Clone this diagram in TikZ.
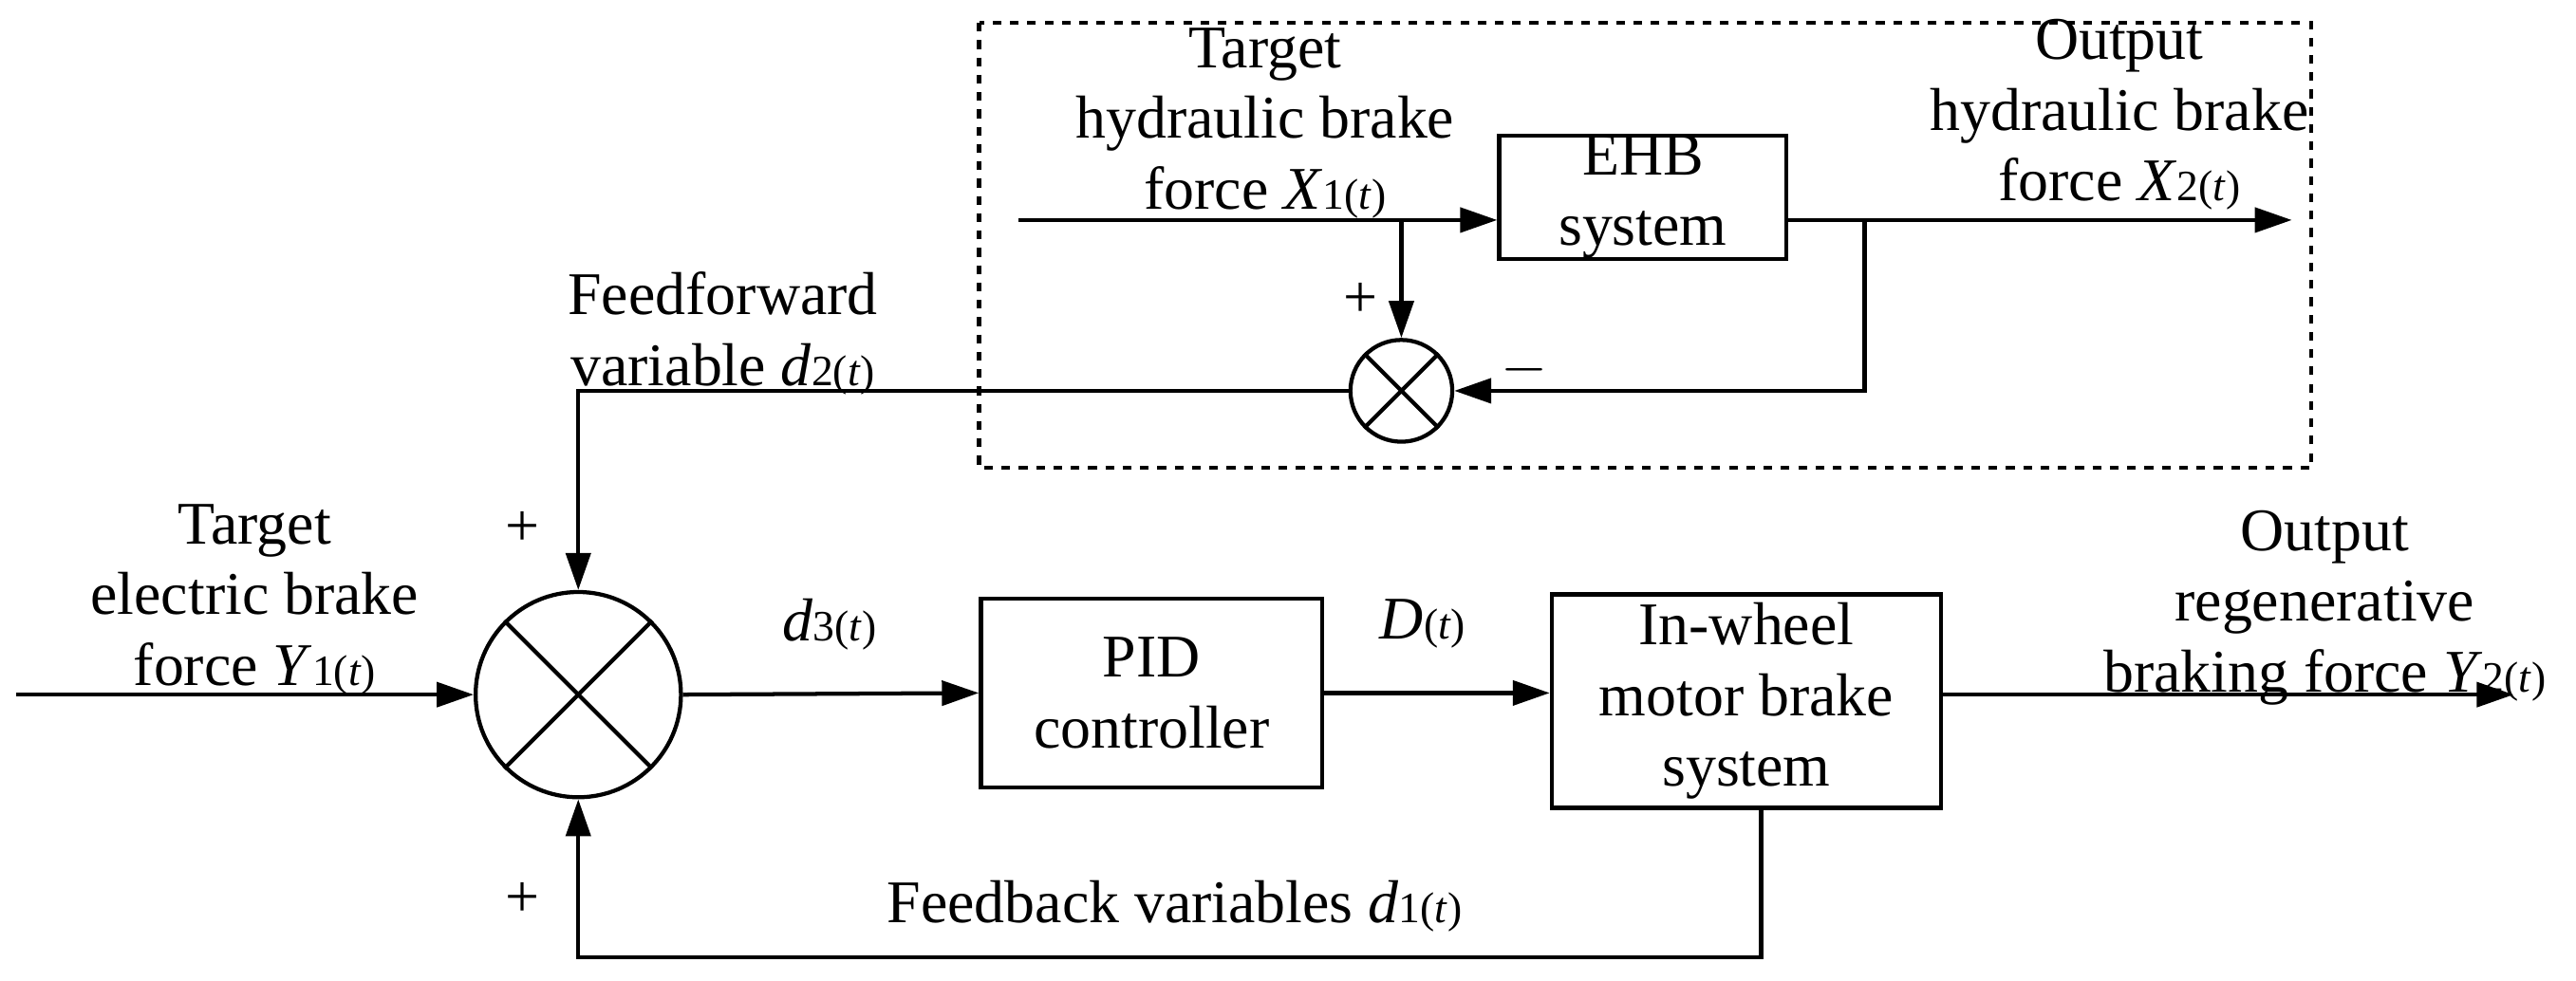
\documentclass[tikz,border=0pt]{standalone}
\usepackage{fontspec}
\setmainfont{Liberation Serif}
\usetikzlibrary{arrows.meta}
\newcommand{\sv}[2]{\textit{#1}{\fontsize{15}{15}\selectfont #2(\textit{t})}}
\begin{document}
\begin{tikzpicture}[x=0.02cm,y=-0.02cm,
  line width=1.4pt,
  arr/.style={-{Triangle[length=0.45cm,width=0.3cm]}},
  box/.style={draw,line width=1.4pt,align=center,inner sep=0pt},
  lab/.style={align=center,font=\fontsize{21}{24.5}\selectfont},
  every node/.style={font=\fontsize{21}{24.5}\selectfont}]
\useasboundingbox (0,0) rectangle (1568,597);
\draw[dashed,line width=1.4pt] (596,14) rectangle (1407,285);
\node[box,minimum width=3.5cm,minimum height=1.48cm] (ehb) at (1000,120) {EHB\\system};
\node[draw,circle,minimum size=1.24cm,inner sep=0pt] (s1) at (853,238) {};
\draw (s1.45)--(s1.225) (s1.135)--(s1.315);
\node[box,minimum width=4.16cm,minimum height=2.3cm] (pid) at (701,422) {PID\\controller};
\node[box,minimum width=4.74cm,minimum height=2.6cm] (mot) at (1063,427) {In-wheel\\motor brake\\system};
\node[draw,circle,minimum size=2.5cm,inner sep=0pt] (s2) at (352,423) {};
\draw (s2.45)--(s2.225) (s2.135)--(s2.315);
\coordinate (in1) at (620,134);
\coordinate (br1) at (853,134);
\coordinate (out1) at (1395,134);
\coordinate (br2) at (1135,134);
\coordinate (in2) at (10,423);
\coordinate (out2) at (1530,423);
\coordinate (fb) at (1072,583);
\draw[arr] (in1)--(ehb.west|-in1);
\draw[arr] (br1)--(s1.north);
\draw[arr] (ehb.east|-out1)--(out1);
\draw[arr] (br2)--(br2|-s1)--(s1.east);
\draw[arr] (s1.west)--(352,238)--(s2.north);
\draw[arr] (in2)--(s2.west);
\draw[arr] (s2.east)--(pid.west);
\draw[arr] (pid.east)--(mot.west|-pid);
\draw[arr] (mot.east|-out2)--(out2);
\draw[arr] (fb|-mot.south)--(fb)--(352,583)--(s2.south);
\node[lab] (l1) at (770,75) {Target\\hydraulic brake\\force \sv{X}{1}};
\node[lab] (l2) at (1290,70) {Output\\hydraulic brake\\force \sv{X}{2}};
\node (p1) at (828,183) {+};
\node (m1) at (928,225) {$-$};
\node[lab] (l3) at (440,203) {Feedforward\\variable \sv{d}{2}};
\node (p2) at (318,322) {+};
\node (p3) at (318,548) {+};
\node[lab] (l4) at (155,365) {Target\\electric brake\\force \sv{Y}{1}};
\node (l5) at (505,380) {\sv{d}{3}};
\node (l6) at (866,380) {\sv{D}{}};
\node (l7) at (715,552) {Feedback variables \sv{d}{1}};
\node[lab] (l8) at (1415,370) {Output\\regenerative\\braking force \sv{Y}{2}};
\end{tikzpicture}
\end{document}
